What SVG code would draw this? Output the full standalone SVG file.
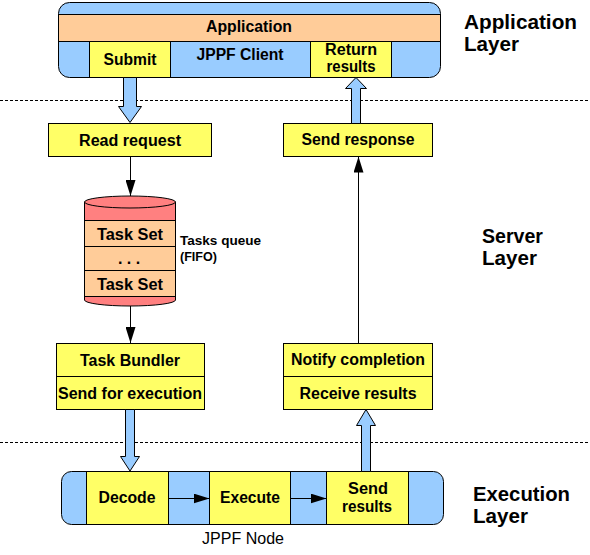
<svg xmlns="http://www.w3.org/2000/svg" width="590" height="555" viewBox="0 0 590 555">
<defs>
<style>
.b{fill:#99CCFF;stroke:#000;stroke-width:1}
.y{fill:#FFFF66;stroke:#000;stroke-width:1}
.o{fill:#FFCC99;stroke:#000;stroke-width:1}
.r{fill:#FF8080;stroke:#000;stroke-width:1}
.sep{stroke:#000;stroke-width:1;stroke-dasharray:3,2;fill:none}
.ln{stroke:#000;stroke-width:1;fill:none}
text{font-family:"Liberation Sans",Arial,sans-serif;fill:#000}
.t{font-size:16px;font-weight:bold;text-anchor:middle}
.L{font-size:20px;font-weight:bold}
.s{font-size:12px;font-weight:bold}
.n{font-size:16px;text-anchor:middle}
</style>
<marker id="ah" viewBox="0 0 16 10" refX="16" refY="5" markerWidth="16" markerHeight="10" markerUnits="userSpaceOnUse" orient="auto">
<path d="M0,0 L16,5 L0,10 z" fill="#000"/>
</marker>
</defs>
<rect width="590" height="555" fill="#fff"/>

<g id="separators">
<line class="sep" x1="0" y1="100.5" x2="590" y2="100.5"/>
<line class="sep" x1="0" y1="442.5" x2="590" y2="442.5"/>
</g>

<g id="layer-labels">
<text class="L" x="464" y="29" textLength="113" lengthAdjust="spacingAndGlyphs">Application</text>
<text class="L" x="464" y="51" textLength="55" lengthAdjust="spacingAndGlyphs">Layer</text>
<text class="L" x="482" y="243" textLength="61" lengthAdjust="spacingAndGlyphs">Server</text>
<text class="L" x="482" y="265" textLength="55" lengthAdjust="spacingAndGlyphs">Layer</text>
<text class="L" x="473" y="501" textLength="97" lengthAdjust="spacingAndGlyphs">Execution</text>
<text class="L" x="473" y="523" textLength="55" lengthAdjust="spacingAndGlyphs">Layer</text>
</g>

<g id="jppf-client">
<rect class="b" x="58.5" y="2.5" width="382" height="75" rx="11"/>
<rect class="o" x="58.5" y="14.5" width="382" height="27"/>
<text class="t" x="249" y="32" textLength="86" lengthAdjust="spacingAndGlyphs">Application</text>
<rect class="y" x="89.5" y="41.5" width="81" height="36"/>
<text class="t" x="130" y="65" textLength="53" lengthAdjust="spacingAndGlyphs">Submit</text>
<text class="t" x="240" y="60" textLength="87" lengthAdjust="spacingAndGlyphs">JPPF Client</text>
<rect class="y" x="310.5" y="41.5" width="81" height="36"/>
<text class="t" x="351" y="55" textLength="52" lengthAdjust="spacingAndGlyphs">Return</text>
<text class="t" x="351" y="72" textLength="49" lengthAdjust="spacingAndGlyphs">results</text>
</g>

<g id="read-request">
<rect class="y" x="48.5" y="123.5" width="163" height="33"/>
<text class="t" x="130" y="146" textLength="102" lengthAdjust="spacingAndGlyphs">Read request</text>
</g>

<g id="send-response">
<rect class="y" x="283.5" y="123.5" width="149" height="33"/>
<text class="t" x="358" y="145" textLength="113" lengthAdjust="spacingAndGlyphs">Send response</text>
</g>

<g id="tasks-queue">
<path class="r" d="M84.5,202 L84.5,300 A45.5,6 0 0 0 175.5,300 L175.5,202 z"/>
<ellipse class="r" cx="130" cy="202" rx="45.5" ry="6"/>
<rect class="o" x="84.5" y="220.5" width="91" height="26"/>
<rect class="o" x="84.5" y="246.5" width="91" height="24"/>
<rect class="o" x="84.5" y="270.5" width="91" height="26"/>
<text class="t" x="130" y="240" textLength="66" lengthAdjust="spacingAndGlyphs">Task Set</text>
<text class="t" x="129" y="264">. . .</text>
<text class="t" x="130" y="290" textLength="66" lengthAdjust="spacingAndGlyphs">Task Set</text>
<text class="s" x="180" y="245" textLength="81" lengthAdjust="spacingAndGlyphs">Tasks queue</text>
<text class="s" x="180" y="261" textLength="37" lengthAdjust="spacingAndGlyphs">(FIFO)</text>
</g>

<g id="task-bundler">
<rect class="y" x="56.5" y="343.5" width="148" height="33"/>
<rect class="y" x="56.5" y="376.5" width="148" height="33"/>
<text class="t" x="130" y="366" textLength="100" lengthAdjust="spacingAndGlyphs">Task Bundler</text>
<text class="t" x="130" y="399" textLength="144" lengthAdjust="spacingAndGlyphs">Send for execution</text>
</g>

<g id="receive-results">
<rect class="y" x="283.5" y="343.5" width="149" height="33"/>
<rect class="y" x="283.5" y="376.5" width="149" height="33"/>
<text class="t" x="358" y="365" textLength="134" lengthAdjust="spacingAndGlyphs">Notify completion</text>
<text class="t" x="358" y="399" textLength="117" lengthAdjust="spacingAndGlyphs">Receive results</text>
</g>

<g id="jppf-node">
<rect class="b" x="61.5" y="471.5" width="382" height="53" rx="10"/>
<rect class="y" x="86.5" y="471.5" width="82" height="53"/>
<rect class="y" x="209.5" y="471.5" width="81" height="53"/>
<rect class="y" x="326.5" y="471.5" width="82" height="53"/>
<text class="t" x="127" y="503" textLength="57" lengthAdjust="spacingAndGlyphs">Decode</text>
<text class="t" x="250" y="503" textLength="60" lengthAdjust="spacingAndGlyphs">Execute</text>
<text class="t" x="368" y="494" textLength="40" lengthAdjust="spacingAndGlyphs">Send</text>
<text class="t" x="367" y="512" textLength="50" lengthAdjust="spacingAndGlyphs">results</text>
<text class="n" x="243" y="544" textLength="82" lengthAdjust="spacingAndGlyphs">JPPF Node</text>
</g>

<g id="connectors">
<path class="b" d="M123.5,77.5 L136.5,77.5 L136.5,106.5 L141.5,106.5 L130,122.5 L118.5,106.5 L123.5,106.5 z"/>
<path class="b" d="M351.5,123.5 L360.5,123.5 L360.5,88.5 L366.5,88.5 L356,77.5 L345.5,88.5 L351.5,88.5 z"/>
<path class="b" d="M125.5,409.5 L134.5,409.5 L134.5,456.5 L139.5,456.5 L130,471 L120.5,456.5 L125.5,456.5 z"/>
<path class="b" d="M361.5,471.5 L370.5,471.5 L370.5,425.5 L375.5,425.5 L366,409.5 L356.5,425.5 L361.5,425.5 z"/>
<line class="ln" x1="130.5" y1="156.5" x2="130.5" y2="196" marker-end="url(#ah)"/>
<line class="ln" x1="130.5" y1="306" x2="130.5" y2="343" marker-end="url(#ah)"/>
<line class="ln" x1="358.5" y1="343.5" x2="358.5" y2="156.5" marker-end="url(#ah)"/>
<line class="ln" x1="168.5" y1="498.5" x2="209.5" y2="498.5" marker-end="url(#ah)"/>
<line class="ln" x1="290.5" y1="498.5" x2="326.5" y2="498.5" marker-end="url(#ah)"/>
</g>
</svg>
